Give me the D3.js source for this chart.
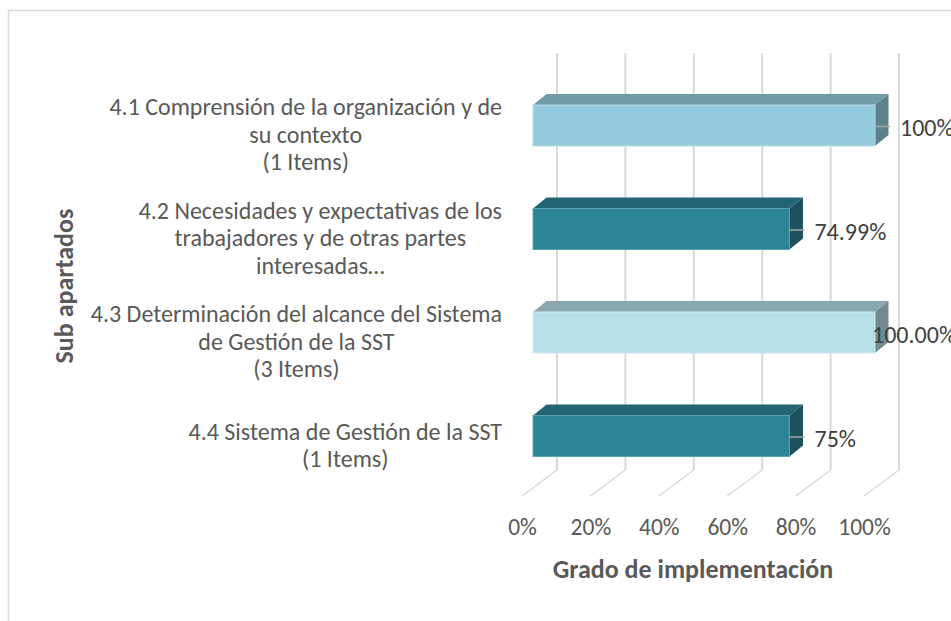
<!DOCTYPE html>
<html>
<head>
<meta charset="utf-8">
<script src="https://cdn.jsdelivr.net/npm/d3@7"></script>
<style>
  html, body { margin: 0; padding: 0; background: #fff; overflow: hidden; }
  svg { display: block; }
  text { font-family: Carlito, Calibri, Lato, "Open Sans", sans-serif; }
</style>
</head>
<body>
<svg id="chart" width="951" height="621"></svg>
<script>
// ---- data ----
const categoryLines = [
  ["4.1 Comprensión de la organización y de", "su contexto", "(1 Items)"],
  ["4.2 Necesidades y expectativas de los", "trabajadores y de otras partes", "interesadas…"],
  ["4.3 Determinación del alcance del Sistema", "de Gestión de la SST", "(3 Items)"],
  ["4.4 Sistema de Gestión de la SST", "(1 Items)"]
];
const values = [1.00, 0.7499, 1.00, 0.75];
const valueLabels = ["100%", "74.99%", "100.00%", "75%"];
const xTicks = [0, 0.2, 0.4, 0.6, 0.8, 1.0];
const xTitle = "Grado de implementación";
const yTitle = "Sub apartados";

// ---- styles ----
const palettes = [
  { front: "#93cbdc", top: "#6f9ba7", side: "#5d828c", edge: "#b5dde8" },
  { front: "#2e8497", top: "#246574", side: "#1d515d", edge: "#5aa3b3" },
  { front: "#b7dfe8", top: "#8aa7af", side: "#728b90", edge: "#cfeaf0" },
  { front: "#2e8497", top: "#246574", side: "#1d515d", edge: "#5aa3b3" }
];
const FONT = "Carlito, Calibri, Lato, 'Open Sans', sans-serif";

const svg = d3.select("#chart");

// chart border
svg.append("rect")
  .attr("x", 8.5).attr("y", 10.5).attr("width", 960).attr("height", 640)
  .attr("fill", "none").attr("stroke", "#d9d9d9").attr("stroke-width", 1.5);

// scales
const x = d3.scaleLinear().domain([0, 1]).range([0, 342]);
const barX0 = 533;           // front face origin
const wallDx = 24;           // back wall offset from front face
const floorDx = -11;         // floor front edge offset from front face
const depthDx = 13.5, depthDy = -11;  // bar depth
const wallTop = 53, wallBottom = 470, floorFront = 496;

const y = d3.scalePoint().domain(d3.range(values.length)).range([125.5, 436]);
const barH = 41;

// back wall gridlines
const grid = svg.append("g");
grid.selectAll("line.v").data(xTicks).join("line")
  .attr("x1", d => barX0 + wallDx + x(d)).attr("x2", d => barX0 + wallDx + x(d))
  .attr("y1", wallTop).attr("y2", wallBottom)
  .attr("stroke", "#d9d9d9").attr("stroke-width", 2);
grid.selectAll("line.f").data(xTicks).join("line")
  .attr("x1", d => barX0 + wallDx + x(d)).attr("y1", wallBottom)
  .attr("x2", d => barX0 + floorDx + x(d)).attr("y2", floorFront)
  .attr("stroke", "#d9d9d9").attr("stroke-width", 1.5);

// x tick labels via axis
const xFloor = d3.scaleLinear().domain([0, 1]).range([barX0 + floorDx, barX0 + floorDx + 342]);
const xAxis = svg.append("g").attr("transform", "translate(0,527)")
  .call(d3.axisBottom(xFloor).tickValues(xTicks).tickFormat(d3.format(".0%")).tickSize(0).tickPadding(0));
xAxis.select(".domain").remove();
xAxis.selectAll("text")
  .attr("fill", "#595959").attr("font-size", 23.5).attr("dy", "0.35em")
  .style("font-family", FONT);

// bars
const bars = svg.append("g");
values.forEach((v, i) => {
  const p = palettes[i];
  const x0 = barX0, x1 = barX0 + x(v);
  const yt = y(i) - barH / 2, yb = y(i) + barH / 2;
  const g = bars.append("g");
  g.append("path")
    .attr("d", `M${x0},${yt} L${x0 + depthDx},${yt + depthDy} L${x1 + depthDx},${yt + depthDy} L${x1},${yt} Z`)
    .attr("fill", p.top);
  g.append("path")
    .attr("d", `M${x1},${yt} L${x1 + depthDx},${yt + depthDy} L${x1 + depthDx},${yb + depthDy} L${x1},${yb} Z`)
    .attr("fill", p.side);
  g.append("rect")
    .attr("x", x0).attr("y", yt).attr("width", x1 - x0).attr("height", barH)
    .attr("fill", p.front).attr("stroke", p.edge).attr("stroke-width", 1);
});

// data labels with leader lines
const labelShift = [0, 0, -28, 0];  // third label sits on the bar in the original
const labels = svg.append("g");
values.forEach((v, i) => {
  const xr = barX0 + x(v);
  if (labelShift[i] === 0) {
    labels.append("line")
      .attr("x1", xr).attr("x2", xr + 15)
      .attr("y1", y(i) + 1).attr("y2", y(i) + 1)
      .attr("stroke", "#a6a6a6").attr("stroke-width", 1.5);
  }
  labels.append("text")
    .attr("x", xr + 25 + labelShift[i]).attr("y", y(i) + 2.5)
    .attr("dy", "0.35em")
    .attr("fill", "#404040").attr("font-size", 24)
    .text(valueLabels[i]);
});

// category labels
const catG = svg.append("g");
const lineH = 27.5;
categoryLines.forEach((lines, i) => {
  const g = catG.append("g");
  const cy = y(i) + 9;
  const texts = g.selectAll("text").data(lines).join("text")
    .attr("y", (d, j) => cy + (j - (lines.length - 1) / 2) * lineH)
    .attr("dy", "0.35em")
    .attr("text-anchor", "middle")
    .attr("fill", "#595959").attr("font-size", 24)
    .text(d => d);
  let maxW = 0;
  texts.each(function () { maxW = Math.max(maxW, this.getComputedTextLength()); });
  texts.attr("x", 502 - maxW / 2);
});

// axis titles
svg.append("text")
  .attr("x", 693).attr("y", 569).attr("dy", "0.35em")
  .attr("text-anchor", "middle")
  .attr("fill", "#595959").attr("font-size", 26).attr("font-weight", "bold")
  .text(xTitle);

svg.append("text")
  .attr("transform", "translate(64,286) rotate(-90)")
  .attr("dy", "0.35em")
  .attr("text-anchor", "middle")
  .attr("fill", "#595959").attr("font-size", 26).attr("font-weight", "bold")
  .text(yTitle);
</script>
</body>
</html>
